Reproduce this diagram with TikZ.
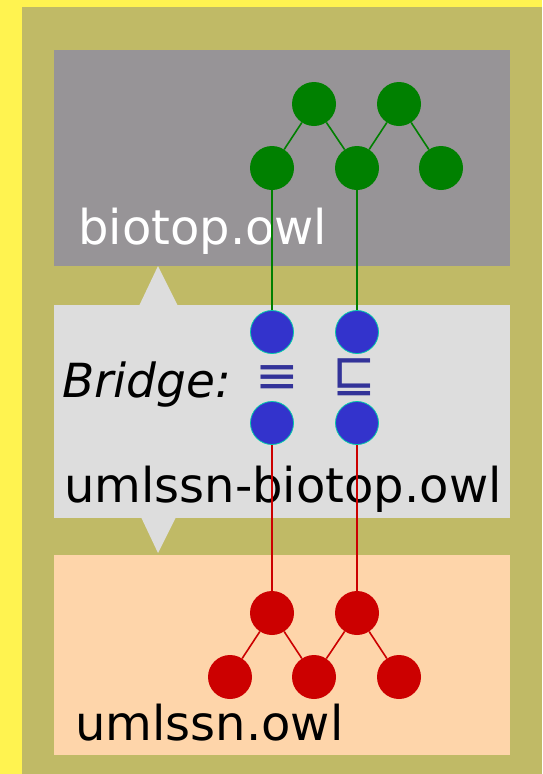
\documentclass[tikz,border=0pt]{standalone}
\usepackage{fontspec}
\setmainfont{DejaVu Sans}
\begin{document}
\definecolor{frameyellow}{RGB}{255,243,80}
\definecolor{olivepanel}{RGB}{192,186,102}
\definecolor{ontogray}{RGB}{151,148,151}
\definecolor{bridgegray}{RGB}{221,221,221}
\definecolor{peach}{RGB}{254,213,170}
\definecolor{ontogreen}{RGB}{0,128,0}
\definecolor{ontored}{RGB}{204,0,0}
\definecolor{bridgeblue}{RGB}{51,51,204}
\definecolor{bridgerim}{RGB}{0,200,170}
\definecolor{symblue}{RGB}{51,51,153}
\begin{tikzpicture}[x=1pt,y=-1pt,
  cls/.style={circle,inner sep=0pt,minimum size=44pt},
  greencls/.style={cls,fill=ontogreen},
  redcls/.style={cls,fill=ontored},
  bluecls/.style={cls,fill=bridgeblue,draw=bridgerim,line width=0.8pt,minimum size=43pt},
  greenlink/.style={draw=ontogreen,line width=1.6pt},
  redlink/.style={draw=ontored,line width=1.6pt},
  title/.style={anchor=base west,inner sep=0pt,font=\fontsize{48}{56}\selectfont},
  relsym/.style={anchor=center,inner sep=0pt,text=symblue,font=\fontsize{52}{60}\selectfont}]
  % background frame and panel
  \fill[frameyellow] (0,0) rectangle (542,774);
  \useasboundingbox (0,0) rectangle (542,774);
  \fill[olivepanel] (22,7) rectangle (542,774);
  % ontology boxes
  \fill[ontogray] (54,50) rectangle (510,266);
  \fill[bridgegray] (54,305) rectangle (510,518);
  \fill[peach] (54,555) rectangle (510,755);
  % pointers from the bridge box
  \fill[bridgegray] (139,306) -- (158,266) -- (178,306) -- cycle;
  \fill[bridgegray] (141,517) -- (158,553) -- (176,517) -- cycle;
  % labels
  \node[title,text=white] (lbltop) at (78,244) {biotop.owl};
  \node[title] (lblbridge) at (64,502) {umlssn-biotop.owl};
  \node[title] (lblbottom) at (75,740) {umlssn.owl};
  \node[title,font=\fontsize{47}{54}\selectfont\itshape] (lblb) at (62,397) {Bridge:};
  \node[relsym] (equiv) at (277,380) {≡};
  \node[relsym] (subsum) at (354,377) {⊑};
  % upper ontology
  \node[greencls] (g1) at (314,104) {};
  \node[greencls] (g2) at (399,104) {};
  \node[greencls] (g3) at (272,168) {};
  \node[greencls] (g4) at (357,168) {};
  \node[greencls] (g5) at (441,168) {};
  % bridge classes
  \node[bluecls] (b1) at (272,332) {};
  \node[bluecls] (b2) at (357,332) {};
  \node[bluecls] (b3) at (272,423) {};
  \node[bluecls] (b4) at (357,423) {};
  % lower ontology
  \node[redcls] (r1) at (272,613) {};
  \node[redcls] (r2) at (357,613) {};
  \node[redcls] (r3) at (230,677) {};
  \node[redcls] (r4) at (314,677) {};
  \node[redcls] (r5) at (399,677) {};
  % links
  \draw[greenlink] (g1) -- (g3);
  \draw[greenlink] (g1) -- (g4);
  \draw[greenlink] (g2) -- (g4);
  \draw[greenlink] (g2) -- (g5);
  \draw[greenlink] (g3) -- (b1);
  \draw[greenlink] (g4) -- (b2);
  \draw[redlink] (b3) -- (r1);
  \draw[redlink] (b4) -- (r2);
  \draw[redlink] (r1) -- (r3);
  \draw[redlink] (r1) -- (r4);
  \draw[redlink] (r2) -- (r4);
  \draw[redlink] (r2) -- (r5);
\end{tikzpicture}
\end{document}
